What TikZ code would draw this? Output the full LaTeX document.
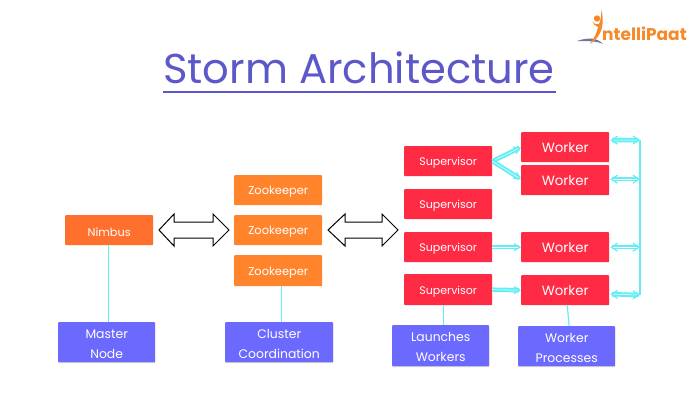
\documentclass[tikz,border=0pt]{standalone}
\usepackage{fontspec}
\setmainfont{Poppins}
\usetikzlibrary{arrows.meta,calc,positioning,shadows}
\definecolor{titlec}{HTML}{5D58C9}
\definecolor{nimbusc}{HTML}{FF6F2E}
\definecolor{zooc}{HTML}{FF842C}
\definecolor{redc}{HTML}{FF2B45}
\definecolor{bluec}{HTML}{6C69FF}
\definecolor{cyanc}{HTML}{62EEF2}
\definecolor{logoo}{HTML}{F58A2A}
\definecolor{logop}{HTML}{77739F}
\tikzset{
  boxbase/.style={anchor=north west,rounded corners=0.8pt,text=white,align=center,inner sep=0pt},
  nimbusbox/.style={boxbase,fill=nimbusc,minimum width=88pt,minimum height=30pt,text height=12pt,font=\fontsize{11.3}{12}\selectfont},
  zoobox/.style={boxbase,fill=zooc,minimum width=88pt,minimum height=30pt,text height=12pt,font=\fontsize{11.4}{12}\selectfont},
  supbox/.style={boxbase,fill=redc,minimum width=88pt,minimum height=30pt,text height=11.5pt,font=\fontsize{11}{12}\selectfont},
  workbox/.style={boxbase,fill=redc,minimum width=88pt,minimum height=30pt,font=\fontsize{13.4}{14}\selectfont},
  notebox/.style={boxbase,fill=bluec,minimum height=40pt,text height=32pt,font=\fontsize{12.4}{20}\selectfont,
    drop shadow={shadow xshift=0pt,shadow yshift=-1pt,opacity=0.35}},
  stem/.style={draw=cyanc,line width=1.2pt},
  flow/.style={draw=cyanc,line width=2pt,double=white,double distance=0.5pt,-{Straight Barb[length=6pt,width=7pt,line width=1.2pt]}},
  both/.style={draw=cyanc,line width=2pt,double=white,double distance=0.5pt,{Straight Barb[length=6pt,width=8pt,line width=1.2pt]}-{Straight Barb[length=6pt,width=8pt,line width=1.2pt]}},
  bigarrow/.style={draw=black,fill=white,line width=1pt,line join=miter},
}
\begin{document}
\begin{tikzpicture}[x=1pt,y=-1pt]
\useasboundingbox (0,0) rectangle (700,400);
\fill[white] (0,0) rectangle (700,400);

% title
\node[anchor=base,text=titlec,font=\fontsize{41.7}{50}\selectfont,inner sep=0pt] (title) at (359,83) {Storm Architecture};
\coordinate (ulL) at (163,92);
\coordinate (ulR) at (556,92);
\draw[titlec,line width=2pt] (ulL) -- (ulR);

% logo
\fill[logop] (577,41) .. controls (588,37) and (598,38) .. (603,44) .. controls (597,41) and (588,41) .. (577,41) -- cycle;
\fill[logoo] (597,18.5) circle (3.2);
\fill[logoo] (601.5,10) .. controls (603,16) and (603,22) .. (602,28) .. controls (600,35) and (596,40) .. (590,44) .. controls (594,38) and (597,33) .. (598,27) .. controls (595,26) and (593,24) .. (592,21) .. controls (594,24) and (597,25) .. (599,24) .. controls (601,20) and (601,15) .. (601.5,10) -- cycle;
\node[anchor=base west,text=logoo,font=\fontsize{17}{18}\bfseries\selectfont,inner sep=0pt] (logo) at (602,40) {ntelliPaat};

% boxes
\node[nimbusbox] (nimbus) at (65,215) {Nimbus};
\node[zoobox] (z1) at (234,175) {Zookeeper};
\node[zoobox] (z2) at (234,215) {Zookeeper};
\node[zoobox,minimum height=31pt] (z3) at (234,255) {Zookeeper};
\node[supbox] (s1) at (404,146) {Supervisor};
\node[supbox] (s2) at (404,189) {Supervisor};
\node[supbox] (s3) at (404,232) {Supervisor};
\node[supbox,minimum height=31pt] (s4) at (404,274) {Supervisor};
\node[workbox] (w1) at (521,132) {Worker};
\node[workbox] (w2) at (521,165) {Worker};
\node[workbox] (w3) at (521,232) {Worker};
\node[workbox] (w4) at (521,275) {Worker};
\node[notebox,minimum width=97pt] (master) at (58,322) {Master\\Node};
\node[notebox,minimum width=108pt] (cluster) at (225,322) {Cluster\\Coordination};
\node[notebox,minimum width=97pt,minimum height=41pt] (launch) at (392,325) {Launches\\Workers};
\node[notebox,minimum width=97pt] (procs) at (518,326) {Worker\\Processes};

% stems
\draw[stem] (nimbus.south) ++(-1,0) coordinate (a1) -- (a1 |- master.north);
\draw[stem] ($(z3.south)+(3,0)$) coordinate (a2) -- (a2 |- cluster.north);
\draw[stem] ($(s4.south)+(-5,0)$) coordinate (a3) -- (a3 |- launch.north);
\draw[stem] ($(w4.south)+(2,0)$) -- ($(procs.north)+(2.5,0)$);

% block arrows
\draw[bigarrow] (159,230) coordinate (b1) -- (174,214) -- (174,222) -- (213,222) -- (213,214) -- (229,230) -- (213,246) -- (213,238) -- (174,238) -- (174,246) -- cycle;
\draw[bigarrow] (328,230) coordinate (b2) -- (345,214) -- (345,222) -- (382,222) -- (382,214) -- (398,230) -- (382,246) -- (382,238) -- (345,238) -- (345,246) -- cycle;

% flows
\draw[flow] ($(s1.east)+(0,0)$) -- (w1.west);
\draw[flow] ($(s1.east)+(0,0)$) -- ($(w2.west)+(0,-1)$);
\draw[flow] (s3.east) -- (w3.west);
\draw[flow] (s4.east) -- ($(w4.west)+(0,0)$);

% bus
\coordinate (busT) at (640,140);
\coordinate (busB) at (640,295);
\draw[cyanc,line width=1.8pt] (busT) -- (busB);
\draw[both] ($(w1.east)+(1,-7)$) -- (busT);
\draw[both] ($(w2.east)+(1,-1)$) -- (busT |- {$(w2.east)+(0,-1)$});
\draw[both] ($(w3.east)+(1,0)$) -- (busT |- w3.east);
\draw[both] ($(w4.east)+(1,4)$) -- (busB);
\end{tikzpicture}
\end{document}
